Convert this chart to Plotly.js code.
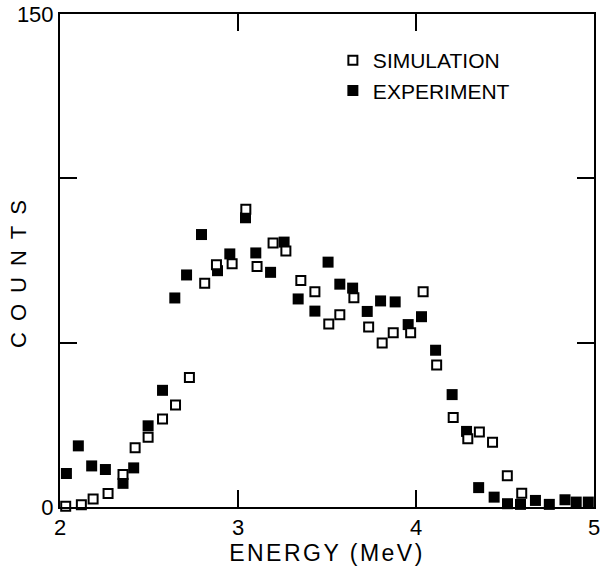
<!DOCTYPE html>
<html>
<head>
<meta charset="utf-8">
<script src="https://cdn.plot.ly/plotly-3.0.1.min.js"></script>
<style>html,body{margin:0;padding:0;background:#fff;}#chart{width:604px;height:571px;}</style>
</head>
<body>
<div id="chart"></div>
<script>
// Experiment (filled squares)
var expEnergy = [2.036, 2.103, 2.178, 2.255, 2.354, 2.414, 2.495, 2.576, 2.645, 2.711,
  2.795, 2.885, 2.954, 3.042, 3.100, 3.183, 3.259, 3.338, 3.432, 3.506,
  3.572, 3.644, 3.726, 3.801, 3.883, 3.956, 4.031, 4.110, 4.203, 4.284,
  4.352, 4.439, 4.514, 4.587, 4.671, 4.749, 4.837, 4.900, 4.968];
var expCounts = [10.2, 18.6, 12.5, 11.4, 7.2, 11.9, 24.7, 35.5, 63.6, 70.6,
  82.9, 71.9, 77.0, 88.0, 77.3, 71.4, 80.6, 63.3, 59.6, 74.5,
  67.8, 66.6, 59.5, 62.7, 62.4, 55.5, 57.9, 47.7, 34.2, 23.0,
  5.9, 3.0, 1.0, 0.8, 2.0, 0.8, 2.2, 1.5, 1.5];

// Simulation (open squares)
var simEnergy = [2.032, 2.120, 2.186, 2.270, 2.354, 2.422, 2.495, 2.576, 2.649, 2.727,
  2.813, 2.879, 2.967, 3.044, 3.107, 3.197, 3.269, 3.353, 3.432, 3.510,
  3.572, 3.651, 3.734, 3.810, 3.872, 3.970, 4.040, 4.116, 4.209, 4.291,
  4.356, 4.430, 4.513, 4.594];
var simCounts = [0.2, 0.7, 2.4, 4.1, 9.9, 18.0, 21.2, 26.8, 31.0, 39.4,
  68.1, 73.7, 74.0, 90.6, 73.2, 80.3, 77.9, 68.9, 65.5, 55.7,
  58.5, 63.7, 54.8, 49.9, 53.0, 53.0, 65.5, 43.2, 27.2, 20.8,
  22.8, 19.7, 9.5, 4.2];

var xTickVals = [2, 3, 4, 5];
var xTickText = ['2', '3', '4', '5'];
var yTickVals = [0, 50, 100, 150];
var yTickText = ['0', '', '', '150'];

var FONT = 'Liberation Sans, Arial, sans-serif';

var traces = [
  {
    x: expEnergy, y: expCounts, mode: 'markers', type: 'scatter', name: 'EXPERIMENT',
    marker: {symbol: 'square', size: 11, color: '#000', line: {width: 0}},
    cliponaxis: false
  },
  {
    x: simEnergy, y: simCounts, mode: 'markers', type: 'scatter', name: 'SIMULATION',
    marker: {symbol: 'square', size: 9, color: '#fff', line: {width: 2, color: '#000'}},
    cliponaxis: false
  }
];

var axisCommon = {
  showline: true, linecolor: '#000', linewidth: 2, mirror: 'ticks',
  ticks: 'inside', ticklen: 17, tickwidth: 2, tickcolor: '#000',
  showgrid: false, zeroline: false, tickmode: 'array',
  tickfont: {family: FONT, size: 22, color: '#000'}
};

var layout = {
  width: 604, height: 571,
  margin: {l: 60, r: 10, t: 14, b: 64},
  paper_bgcolor: '#fff', plot_bgcolor: '#fff',
  showlegend: true,
  legend: {
    x: 0.511, y: 0.947, xanchor: 'left', yanchor: 'top',
    traceorder: 'reversed', itemwidth: 30,
    font: {family: FONT, size: 21, color: '#000'},
    bgcolor: 'rgba(0,0,0,0)', tracegroupgap: 0
  },
  xaxis: Object.assign({}, axisCommon, {
    range: [2, 5], tickvals: xTickVals, ticktext: xTickText,
    title: {text: 'ENERGY (MeV)', font: {family: FONT, size: 23, color: '#000'}}
  }),
  yaxis: Object.assign({}, axisCommon, {
    range: [0, 150], tickvals: yTickVals, ticktext: yTickText,
    title: {text: 'COUNTS', font: {family: FONT, size: 22, color: '#000'}}
  })
};

Plotly.newPlot('chart', traces, layout, {displayModeBar: false, staticPlot: true}).then(function () {
  var yt = document.querySelector('.ytitle');
  if (yt) {
    yt.style.letterSpacing = '11px';
    yt.setAttribute('transform', 'translate(6,8) ' + (yt.getAttribute('transform') || ''));
  }
  var xt = document.querySelector('.xtitle');
  if (xt) {
    xt.style.letterSpacing = '2.5px';
    xt.setAttribute('transform', 'translate(0,-5) ' + (xt.getAttribute('transform') || ''));
  }
});
</script>
</body>
</html>
